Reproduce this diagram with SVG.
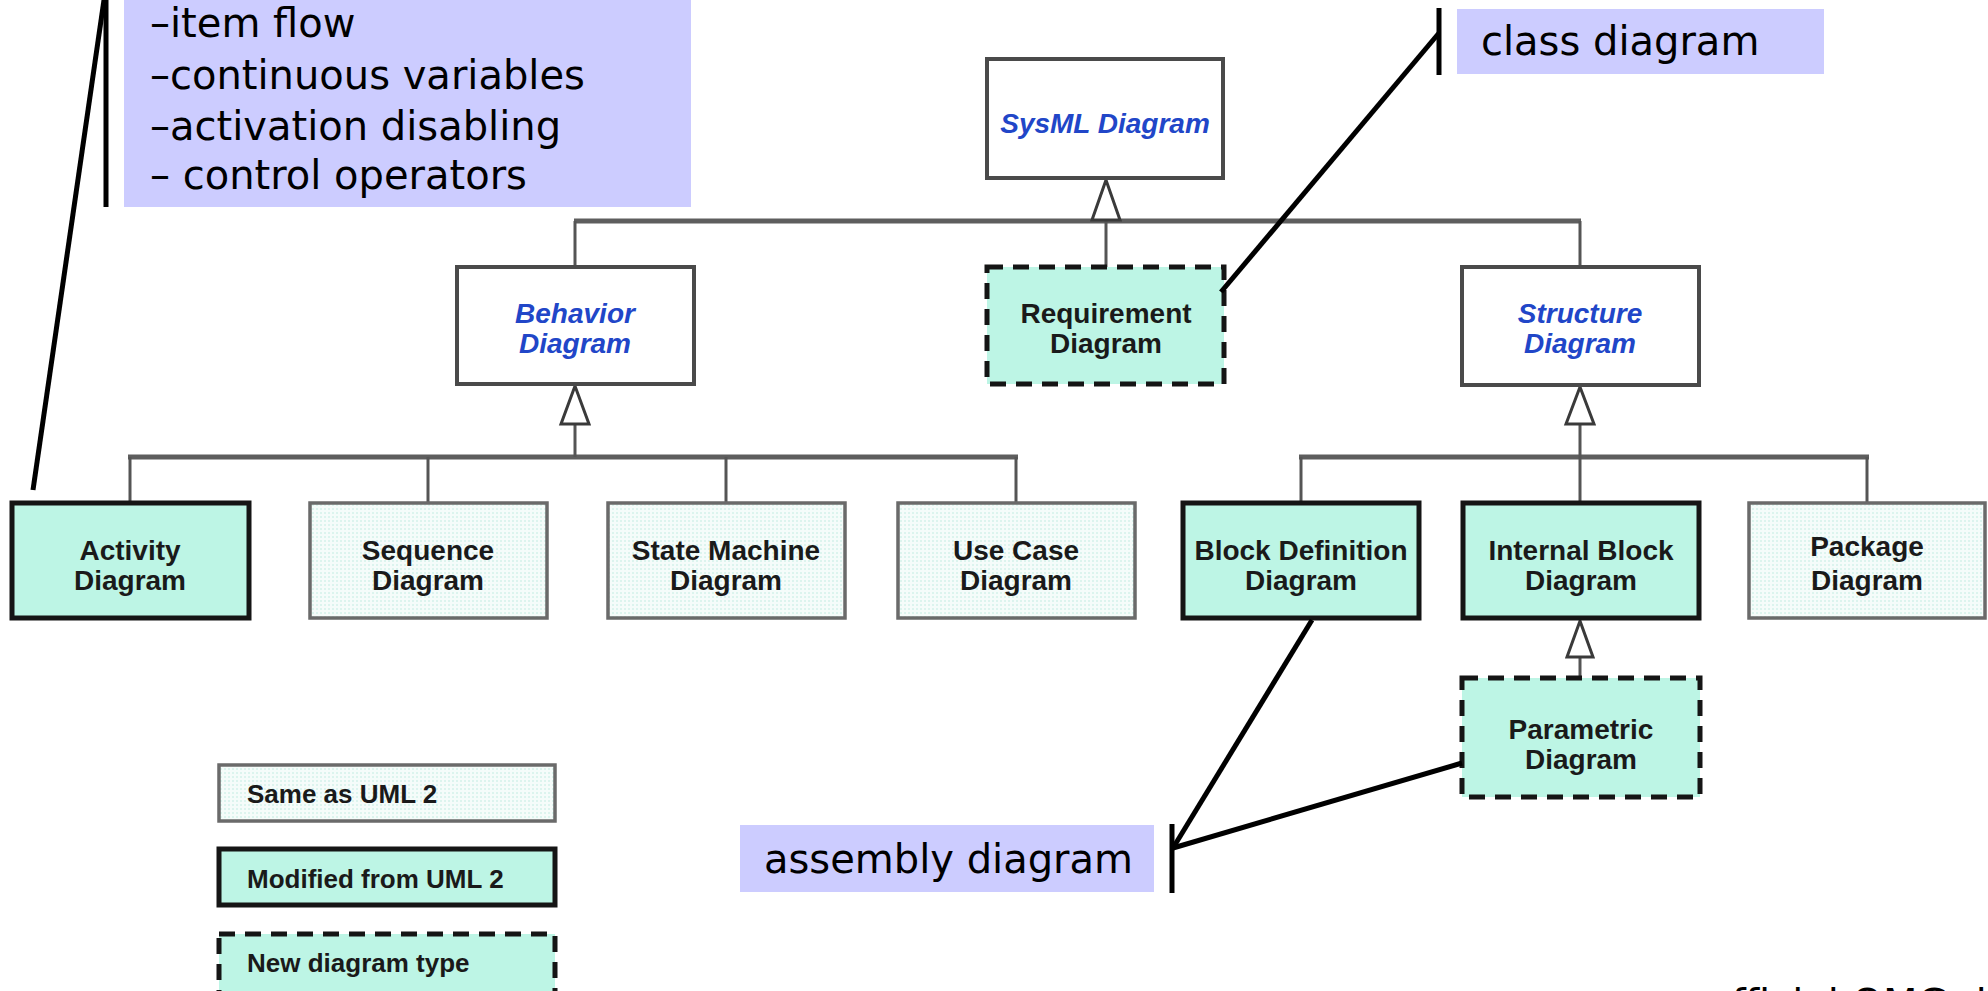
<svg xmlns="http://www.w3.org/2000/svg" width="1988" height="991" viewBox="0 0 1988 991">
<defs>
<pattern id="dots" width="4" height="4" patternUnits="userSpaceOnUse">
<rect width="4" height="4" fill="#f5fcfa"/>
<rect width="2" height="2" fill="#dcf4ee"/>
</pattern>
<style>
.abs{fill:#ffffff;stroke:#4a4a4a;stroke-width:4}
.same{fill:url(#dots);stroke:#6a6a6a;stroke-width:3.5}
.mod{fill:#bdf5e5;stroke:#151515;stroke-width:5}
.new{fill:#bdf5e5;stroke:#151515;stroke-width:5;stroke-dasharray:16 10}
.lbl{font-family:"Liberation Sans",Arial,sans-serif;font-size:28px;font-weight:bold;fill:#1a1a1a;text-anchor:middle}
.blue{font-family:"Liberation Sans",Arial,sans-serif;font-size:28px;font-weight:bold;font-style:italic;fill:#2146c8;text-anchor:middle}
.leg{font-family:"Liberation Sans",Arial,sans-serif;font-size:26px;font-weight:bold;fill:#1a1a1a}
.note{font-family:"DejaVu Sans",sans-serif;font-size:40px;fill:#000000}
.nbox{fill:#ccccff}
.conn{stroke:#555555;stroke-width:3;fill:none}
.bar{stroke:#5e5e5e;stroke-width:5;fill:none}
.tri{fill:#ffffff;stroke:#3a3a3a;stroke-width:3}
.call{stroke:#000000;stroke-width:5;fill:none}
</style>
</defs>
<rect width="1988" height="991" fill="#ffffff"/>

<g id="connectors">
<line class="bar" x1="574" y1="221" x2="1581" y2="221"/>
<line class="conn" x1="575" y1="221" x2="575" y2="267"/>
<line class="conn" x1="1106" y1="221" x2="1106" y2="267"/>
<line class="conn" x1="1580" y1="221" x2="1580" y2="267"/>
<polygon class="tri" points="1106,180 1092,220 1120,220"/>
<line class="bar" x1="128" y1="457" x2="1018" y2="457"/>
<line class="conn" x1="130" y1="457" x2="130" y2="503"/>
<line class="conn" x1="428" y1="457" x2="428" y2="503"/>
<line class="conn" x1="726" y1="457" x2="726" y2="503"/>
<line class="conn" x1="1016" y1="457" x2="1016" y2="503"/>
<line class="conn" x1="575" y1="424" x2="575" y2="457"/>
<polygon class="tri" points="575,386 561,424 589,424"/>
<line class="bar" x1="1299" y1="457" x2="1869" y2="457"/>
<line class="conn" x1="1301" y1="457" x2="1301" y2="503"/>
<line class="conn" x1="1867" y1="457" x2="1867" y2="503"/>
<line class="conn" x1="1580" y1="424" x2="1580" y2="503"/>
<polygon class="tri" points="1580,387 1566,424 1594,424"/>
<line class="conn" x1="1580" y1="657" x2="1580" y2="678"/>
<polygon class="tri" points="1580,621 1567,657 1593,657"/>
</g>

<g id="sysml"><rect class="abs" x="987" y="59" width="236" height="119"/><text class="blue" x="1105" y="133">SysML Diagram</text></g>
<g id="behavior"><rect class="abs" x="457" y="267" width="237" height="117"/><text class="blue" x="575" y="323">Behavior</text><text class="blue" x="575" y="353">Diagram</text></g>
<g id="requirement"><rect class="new" x="987" y="267" width="237" height="117"/><text class="lbl" x="1106" y="323">Requirement</text><text class="lbl" x="1106" y="353">Diagram</text></g>
<g id="structure"><rect class="abs" x="1462" y="267" width="237" height="118"/><text class="blue" x="1580" y="323">Structure</text><text class="blue" x="1580" y="353">Diagram</text></g>
<g id="activity"><rect class="mod" x="12" y="503" width="237" height="115"/><text class="lbl" x="130" y="560">Activity</text><text class="lbl" x="130" y="590">Diagram</text></g>
<g id="sequence"><rect class="same" x="310" y="503" width="237" height="115"/><text class="lbl" x="428" y="560">Sequence</text><text class="lbl" x="428" y="590">Diagram</text></g>
<g id="statemachine"><rect class="same" x="608" y="503" width="237" height="115"/><text class="lbl" x="726" y="560">State Machine</text><text class="lbl" x="726" y="590">Diagram</text></g>
<g id="usecase"><rect class="same" x="898" y="503" width="237" height="115"/><text class="lbl" x="1016" y="560">Use Case</text><text class="lbl" x="1016" y="590">Diagram</text></g>
<g id="bdd"><rect class="mod" x="1183" y="503" width="236" height="115"/><text class="lbl" x="1301" y="560">Block Definition</text><text class="lbl" x="1301" y="590">Diagram</text></g>
<g id="ibd"><rect class="mod" x="1463" y="503" width="236" height="115"/><text class="lbl" x="1581" y="560">Internal Block</text><text class="lbl" x="1581" y="590">Diagram</text></g>
<g id="package"><rect class="same" x="1749" y="503" width="236" height="115"/><text class="lbl" x="1867" y="556">Package</text><text class="lbl" x="1867" y="590">Diagram</text></g>
<g id="parametric"><rect class="new" x="1462" y="678" width="238" height="119"/><text class="lbl" x="1581" y="739">Parametric</text><text class="lbl" x="1581" y="769">Diagram</text></g>

<g id="legend">
<rect class="same" x="219" y="765" width="336" height="56"/><text class="leg" x="247" y="803">Same as UML 2</text>
<rect class="mod" x="219" y="849" width="336" height="56"/><text class="leg" x="247" y="888">Modified from UML 2</text>
<rect class="new" x="219" y="934" width="336" height="64"/><text class="leg" x="247" y="972">New diagram type</text>
</g>

<g id="note-activity">
<rect class="nbox" x="124" y="0" width="567" height="207"/>
<line class="call" x1="106" y1="0" x2="106" y2="207"/>
<line class="call" x1="104" y1="0" x2="33" y2="490"/>
<text class="note" x="150" y="37">–item flow</text>
<text class="note" x="150" y="89">–continuous variables</text>
<text class="note" x="150" y="140">–activation disabling</text>
<text class="note" x="150" y="189">– control operators</text>
</g>
<g id="note-class">
<rect class="nbox" x="1457" y="9" width="367" height="65"/>
<line class="call" x1="1439" y1="8" x2="1439" y2="75"/>
<line class="call" x1="1439" y1="33" x2="1221" y2="292"/>
<text class="note" x="1481" y="55">class diagram</text>
</g>
<g id="note-assembly">
<rect class="nbox" x="740" y="825" width="414" height="67"/>
<line class="call" x1="1172" y1="824" x2="1172" y2="893"/>
<line class="call" x1="1173" y1="848" x2="1312" y2="620"/>
<line class="call" x1="1173" y1="848" x2="1462" y2="763" stroke-width="6"/>
<text class="note" x="764" y="873">assembly diagram</text>
</g>
<text class="note" x="1707" y="1018">official OMG diagram</text>
</svg>
